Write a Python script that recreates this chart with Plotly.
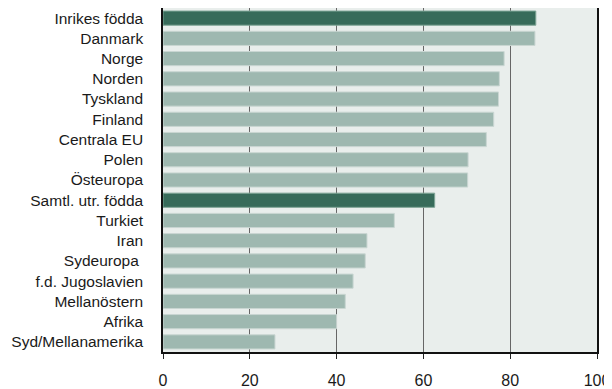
import plotly.graph_objects as go

categories = ["Inrikes födda", "Danmark", "Norge", "Norden", "Tyskland", "Finland",
              "Centrala EU", "Polen", "Östeuropa", "Samtl. utr. födda", "Turkiet",
              "Iran", "Sydeuropa ", "f.d. Jugoslavien", "Mellanöstern", "Afrika",
              "Syd/Mellanamerika"]
values = [85.9, 85.7, 78.6, 77.5, 77.3, 76.2, 74.5, 70.3, 70.2, 62.6, 53.3,
          47.0, 46.6, 43.8, 42.0, 40.0, 25.8]
highlight = ["Inrikes födda", "Samtl. utr. födda"]
x_ticks = [0, 20, 40, 60, 80, 100]

DARK = "#376b5a"
LIGHT = "#9eb8b0"
colors = [DARK if c in highlight else LIGHT for c in categories]
edge = ["#7fa596" if c in highlight else "#c9d6d2" for c in categories]

FONT = "Liberation Sans Narrow, Arial Narrow, Liberation Sans, Arial, sans-serif"

fig = go.Figure(go.Bar(
    y=categories, x=values, orientation="h",
    marker=dict(color=colors, line=dict(color=edge, width=1)),
    width=0.7,
))

# the page body has an 8px default margin, so the figure is sized to fit the window
fig.update_layout(
    width=604, height=381,
    margin=dict(l=155, r=15, t=0, b=37, autoexpand=False),
    plot_bgcolor="#e9eeec", paper_bgcolor="white",
    showlegend=False,
    font=dict(family=FONT, size=16, color="#1a1a1a"),
)
fig.update_xaxes(
    range=[0, 100], tickvals=x_ticks, ticks="outside", ticklen=5, tickcolor="#222",
    showgrid=True, gridcolor="#666", gridwidth=1,
    showline=True, linecolor="#111", linewidth=1.5, mirror=True,
    zeroline=False, tickfont=dict(size=16), ticklabelstandoff=8, automargin=False,
)
fig.update_yaxes(
    categoryorder="array", categoryarray=categories, autorange="reversed",
    ticks="", showgrid=False, showline=True, linecolor="#111", linewidth=1.5, mirror=True,
    tickfont=dict(size=15.5), ticklabelstandoff=15, automargin=False,
)

fig.write_html("out.html")
